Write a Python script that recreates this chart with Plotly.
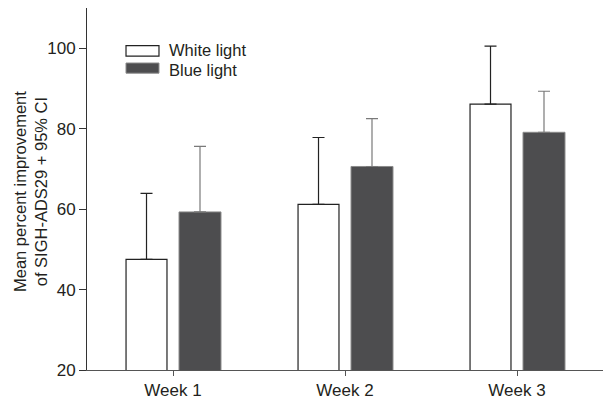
import plotly.graph_objects as go

categories = ["Week 1", "Week 2", "Week 3"]
white_mean = [47.5, 61.2, 86.1]
white_upper = [63.9, 77.8, 100.5]
blue_mean = [59.3, 70.6, 79.1]
blue_upper = [75.6, 82.5, 89.3]
series_names = ["White light", "Blue light"]
y_ticks = [20, 40, 60, 80, 100]
y_title = "Mean percent improvement<br>of SIGH-ADS29 + 95% CI"

FONT = "Liberation Sans, Arial, Helvetica, sans-serif"
TXT = "#231f20"
BLUE = "#4d4d4f"

fig = go.Figure()
fig.add_trace(go.Bar(
    x=categories, y=white_mean, name=series_names[0],
    offset=-0.273, width=0.238,
    marker=dict(color="white", line=dict(color="#222222", width=1.2)),
    error_y=dict(type="data", symmetric=False,
                 array=[u - m for u, m in zip(white_upper, white_mean)],
                 arrayminus=[0] * len(white_mean),
                 color="#222222", thickness=1.2, width=6),
    showlegend=False,
))
fig.add_trace(go.Bar(
    x=categories, y=blue_mean, name=series_names[1],
    offset=0.035, width=0.244,
    marker=dict(color=BLUE, line=dict(color="#8a8a8a", width=1)),
    error_y=dict(type="data", symmetric=False,
                 array=[u - m for u, m in zip(blue_upper, blue_mean)],
                 arrayminus=[0] * len(blue_mean),
                 color="#7a7a7a", thickness=1.2, width=6),
    showlegend=False,
))

# legend drawn manually to match wide swatches
shapes = [
    dict(type="rect", xref="paper", yref="paper", x0=0.0756, x1=0.1395, y0=0.867, y1=0.896,
         fillcolor="white", line=dict(color="#222222", width=1.2)),
    dict(type="rect", xref="paper", yref="paper", x0=0.0756, x1=0.1395, y0=0.820, y1=0.848,
         fillcolor=BLUE, line=dict(color="#8a8a8a", width=1)),
]
annotations = [
    dict(text=series_names[0], xref="paper", yref="paper", x=0.155, y=0.8826, xanchor="left",
         yanchor="middle", showarrow=False, font=dict(family=FONT, size=16.5, color=TXT)),
    dict(text=series_names[1], xref="paper", yref="paper", x=0.155, y=0.830, xanchor="left",
         yanchor="middle", showarrow=False, font=dict(family=FONT, size=16.5, color=TXT)),
    dict(text=y_title, xref="paper", yref="paper", x=0, y=0.5, xanchor="center",
         yanchor="middle", xshift=-57, yshift=-3, textangle=-90, showarrow=False,
         font=dict(family=FONT, size=16.5, color=TXT)),
]

fig.update_layout(
    width=603, height=401,
    margin=dict(l=87, r=0, t=8, b=31),
    paper_bgcolor="white", plot_bgcolor="white",
    barmode="overlay",
    font=dict(family=FONT, size=17, color=TXT),
    shapes=shapes, annotations=annotations,
    xaxis=dict(range=[-0.5, 2.5], showline=True, linecolor="#555555", linewidth=1,
               ticks="outside", ticklen=5, tickcolor="#555555", showgrid=False,
               zeroline=False, tickfont=dict(size=17, color=TXT)),
    yaxis=dict(range=[20, 110], tickvals=y_ticks, showline=True, linecolor="#333333",
               linewidth=1, ticks="outside", ticklen=7, tickcolor="#333333",
               showgrid=False, zeroline=False, tickfont=dict(size=17, color=TXT)),
)

fig.write_html("out.html", config={"displayModeBar": False},
               post_script="document.body.style.margin='0';document.body.style.padding='0';")
